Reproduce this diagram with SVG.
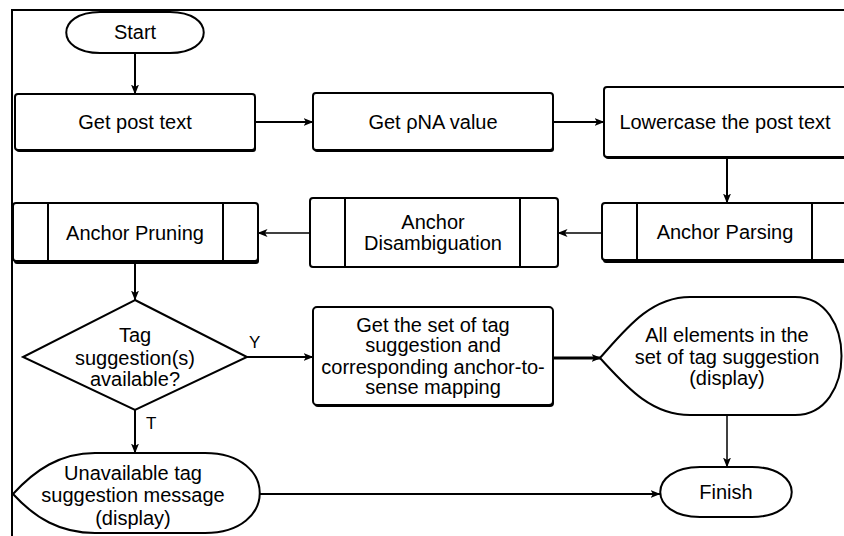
<svg xmlns="http://www.w3.org/2000/svg" width="844" height="536" viewBox="0 0 844 536">
  <defs>
    <marker id="arrow" markerUnits="userSpaceOnUse" markerWidth="10" markerHeight="10" viewBox="0 0 10 10" refX="9.5" refY="5" orient="auto">
      <path d="M0,1 L10,5 L0,9 L2.5,5 Z" fill="#000"/>
    </marker>
    <style>
      .frame { fill: none; stroke: #000; stroke-width: 2; }
      .box { fill: #fff; stroke: #000; stroke-width: 2; }
      .shadow { fill: #000; stroke: none; }
      .shape { fill: #fff; stroke: #000; stroke-width: 2; }
      .div { stroke: #000; stroke-width: 2; }
      .edge { fill: none; stroke: #000; stroke-width: 2; marker-end: url(#arrow); }
      .thin { stroke-width: 1.5; }
      .thick { stroke-width: 3; }
      text { font-family: "Liberation Sans", Arial, sans-serif; font-size: 20px; fill: #000; text-anchor: middle; }
      .lbl { font-size: 17px; text-anchor: start; }
    </style>
  </defs>

  <rect width="844" height="536" fill="#fff"/>
  <!-- outer frame -->
  <rect class="frame" x="12" y="10" width="850" height="540"/>

  <g id="connectors">
    <line class="edge" x1="135" y1="53" x2="135" y2="94"/>
    <line class="edge" x1="255" y1="122" x2="313" y2="122"/>
    <line class="edge" x1="553" y1="122" x2="604" y2="122"/>
    <line class="edge" x1="727" y1="157" x2="727" y2="203"/>
    <line class="edge thin" x1="602" y1="233" x2="558" y2="233"/>
    <line class="edge thin" x1="310" y1="233" x2="258" y2="233"/>
    <line class="edge" x1="135" y1="262" x2="135" y2="300"/>
    <line class="edge" x1="247" y1="357" x2="313" y2="357"/>
    <line class="edge" x1="135" y1="410" x2="135" y2="453"/>
    <line class="edge thick" x1="553" y1="358" x2="601" y2="358"/>
    <line class="edge thin" x1="727" y1="415" x2="727" y2="467"/>
    <line class="edge" x1="260" y1="494" x2="660" y2="494"/>
    <text class="lbl" x="249" y="348">Y</text>
    <text class="lbl" x="146" y="429">T</text>
  </g>

  <g id="start">
    <path class="shape" d="M100,12 L170,12 C215,12 215,53 170,53 L100,53 C55,53 55,12 100,12 Z"/>
    <text x="135" y="39">Start</text>
  </g>

  <g id="get-post-text">
    <rect class="shadow" x="16" y="96" width="240" height="56" rx="3"/>
    <rect class="box" x="15" y="94" width="240" height="56" rx="3"/>
    <text x="135" y="129">Get post text</text>
  </g>

  <g id="get-pna">
    <rect class="shadow" x="314" y="95" width="240" height="57" rx="3"/>
    <rect class="box" x="313" y="93" width="240" height="57" rx="3"/>
    <text x="433" y="129">Get ρNA value</text>
  </g>

  <g id="lowercase">
    <rect class="shadow" x="605" y="89" width="245" height="70" rx="3"/>
    <rect class="box" x="604" y="87" width="245" height="70" rx="3"/>
    <text x="725" y="129">Lowercase the post text</text>
  </g>

  <g id="anchor-parsing">
    <rect class="shadow" x="603" y="206" width="250" height="57" rx="3"/>
    <rect class="box" x="602" y="203" width="250" height="57" rx="3"/>
    <line class="div" x1="637" y1="203" x2="637" y2="260"/>
    <line class="div" x1="812" y1="203" x2="812" y2="260"/>
    <text x="725" y="239">Anchor Parsing</text>
  </g>

  <g id="anchor-disambiguation">
    <rect class="box" x="310" y="198" width="248" height="69" rx="3"/>
    <line class="div" x1="345" y1="198" x2="345" y2="267"/>
    <line class="div" x1="520" y1="198" x2="520" y2="267"/>
    <text x="433" y="229">Anchor</text>
    <text x="433" y="250">Disambiguation</text>
  </g>

  <g id="anchor-pruning">
    <rect class="shadow" x="14" y="206" width="245" height="58" rx="3"/>
    <rect class="box" x="13" y="203" width="245" height="58" rx="3"/>
    <line class="div" x1="48" y1="203" x2="48" y2="261"/>
    <line class="div" x1="223" y1="203" x2="223" y2="261"/>
    <text x="135" y="240">Anchor Pruning</text>
  </g>

  <g id="decision">
    <polygon class="shape" points="135,300 247,357 135,410 23,357"/>
    <text x="135" y="342">Tag</text>
    <text x="135" y="365">suggestion(s)</text>
    <text x="135" y="386">available?</text>
  </g>

  <g id="get-tag-set">
    <rect class="shadow" x="314" y="309" width="240" height="98" rx="4"/>
    <rect class="box" x="313" y="307" width="240" height="98" rx="4"/>
    <text x="433" y="332">Get the set of tag</text>
    <text x="433" y="352">suggestion and</text>
    <text x="433" y="374">corresponding anchor-to-</text>
    <text x="433" y="394">sense mapping</text>
  </g>

  <g id="display-all">
    <path class="shape" d="M600,358 C625,330 650,297 690,297 L795,297 C857,297 857,415 795,415 L690,415 C650,415 625,385 600,358 Z"/>
    <text x="727" y="342">All elements in the</text>
    <text x="727" y="364">set of tag suggestion</text>
    <text x="727" y="385">(display)</text>
  </g>

  <g id="display-unavailable">
    <path class="shape" d="M13,494 C35,470 60,453 95,453 L205,453 C278,453 278,533 205,533 L95,533 C60,533 35,518 13,494 Z"/>
    <text x="133" y="480">Unavailable tag</text>
    <text x="133" y="502">suggestion message</text>
    <text x="133" y="525">(display)</text>
  </g>

  <g id="finish">
    <path class="shape" d="M700,467 L752,467 C805,467 805,517 752,517 L700,517 C647,517 647,467 700,467 Z"/>
    <text x="726" y="499">Finish</text>
  </g>
</svg>
